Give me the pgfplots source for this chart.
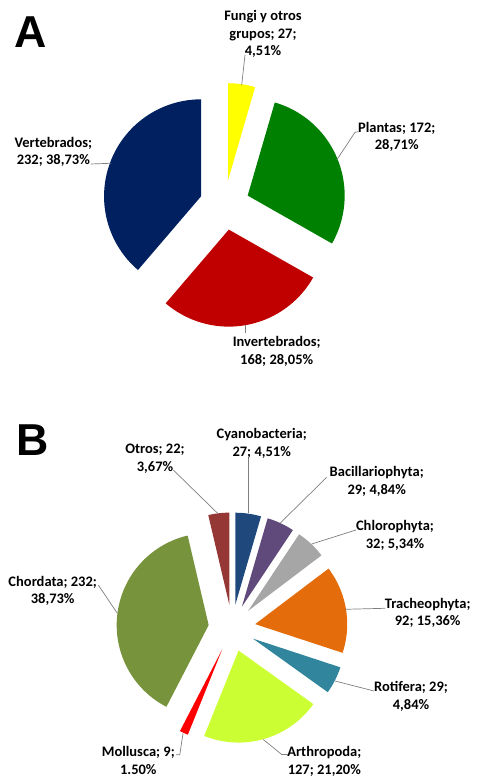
\documentclass[border=0pt]{standalone}
\usepackage{pgfplots}
\pgfplotsset{compat=1.18}
\usepackage{fontspec}
\setmainfont{Carlito}
\newfontfamily\arialf{Liberation Sans}
\definecolor{cAf}{HTML}{FFFF00}
\definecolor{cAp}{HTML}{008000}
\definecolor{cAi}{HTML}{C00000}
\definecolor{cAv}{HTML}{002060}
\definecolor{cBcy}{HTML}{1F497D}
\definecolor{cBba}{HTML}{604A7B}
\definecolor{cBch}{HTML}{A6A6A6}
\definecolor{cBtr}{HTML}{E46C0A}
\definecolor{cBro}{HTML}{31859C}
\definecolor{cBar}{HTML}{CCFF33}
\definecolor{cBmo}{HTML}{FF0000}
\definecolor{cBcd}{HTML}{77933C}
\definecolor{cBot}{HTML}{953735}
\definecolor{lead}{HTML}{7F7F7F}
\def\tot{599}
\def\cum{0}
% #1 colour, #2 cx, #3 cy, #4 radius, #5 explosion offset, #6 value
\newcommand\pieslice[6]{%
  \pgfmathsetmacro\aone{90-\cum/\tot*360}%
  \pgfmathsetmacro\atwo{90-(\cum+#6)/\tot*360}%
  \pgfmathsetmacro\amid{(\aone+\atwo)/2}%
  \pgfmathsetmacro\vx{#2+#5*cos(\amid)}%
  \pgfmathsetmacro\vy{#3+#5*sin(\amid)}%
  \pgfmathsetmacro\newcum{\cum+#6}%
  \xdef\cum{\newcum}%
  \edef\doit{\noexpand\addplot[fill=#1, draw=none, domain=\atwo:\aone, samples=90, variable=\noexpand\t, forget plot] ({\vx+#4*cos(\noexpand\t)},{\vy+#4*sin(\noexpand\t)}) -- (axis cs:\vx,\vy) -- cycle;}%
  \doit
}
\tikzset{lbl/.style={font=\fontsize{14.5}{17.7}\selectfont\bfseries, align=center, inner sep=0pt, text=black}}
\begin{document}
\begin{tikzpicture}
\begin{axis}[width=478pt, height=778pt, scale only axis, xmin=0, xmax=478, ymin=0, ymax=778, hide axis, clip=false]
\path (axis cs:0,0) (axis cs:478,778);
% ---- Chart A (clockwise from top)
\gdef\cum{0}
\pieslice{cAf}{224.5}{573}{97}{25}{27}
\pieslice{cAp}{224.5}{573}{97}{25}{172}
\pieslice{cAi}{224.5}{573}{97}{25}{168}
\pieslice{cAv}{224.5}{573}{97}{25}{232}
% ---- Chart B
\gdef\cum{0}
\pieslice{cBcy}{232}{150}{92}{23.5}{27}
\pieslice{cBba}{232}{150}{92}{23.5}{29}
\pieslice{cBch}{232}{150}{92}{23.5}{32}
\pieslice{cBtr}{232}{150}{92}{23.5}{92}
\pieslice{cBro}{232}{150}{92}{23.5}{29}
\pieslice{cBar}{232}{150}{92}{23.5}{127}
\pieslice{cBmo}{232}{150}{92}{23.5}{9}
\pieslice{cBcd}{232}{150}{92}{23.5}{232}
\pieslice{cBot}{232}{150}{92}{23.5}{22}
% ---- leader lines A
\addplot[lead, line width=0.7pt] coordinates {(245,723) (241.7,693)};
\addplot[lead, line width=0.7pt] coordinates {(358.3,646.3) (355,645.7) (336.7,618)};
\addplot[lead, line width=0.7pt] coordinates {(90.7,614) (111,614.7)};
\addplot[lead, line width=0.7pt] coordinates {(245.7,453) (245.7,444.7)};
% ---- leader lines B
\addplot[lead, line width=0.7pt] coordinates {(173.3,308) (218.3,264)};
\addplot[lead, line width=0.7pt] coordinates {(248.3,319.7) (248.3,264.7)};
\addplot[lead, line width=0.7pt] coordinates {(326.7,300.7) (280,254.7)};
\addplot[lead, line width=0.7pt] coordinates {(356,248) (311.7,234)};
\addplot[lead, line width=0.7pt] coordinates {(385,169.7) (345,168.7)};
\addplot[lead, line width=0.7pt] coordinates {(374,87) (335,97)};
\addplot[lead, line width=0.7pt] coordinates {(287.5,23.5) (281.7,23.5) (263.3,38.5)};
\addplot[lead, line width=0.7pt] coordinates {(176,23.2) (179.8,23.2) (183,44.7)};
\addplot[lead, line width=0.7pt] coordinates {(98.3,193) (117.3,164.7)};
% ---- panel letters
\node[anchor=base west, inner sep=0pt, font=\arialf\bfseries\fontsize{44.7}{50}\selectfont] at (axis cs:14,730.7) {A};
\node[anchor=base west, inner sep=0pt, font=\arialf\bfseries\fontsize{44.7}{50}\selectfont] at (axis cs:16.7,322) {B};
% ---- labels A
\node[lbl] at (axis cs:263,744) {Fungi y otros\\grupos; 27;\\4,51\%};
\node[lbl] at (axis cs:396.7,641) {Plantas; 172;\\28,71\%};
\node[lbl] at (axis cs:53.3,626.2) {Vertebrados;\\232; 38,73\%};
\node[lbl] at (axis cs:276.7,426.5) {Invertebrados;\\168; 28,05\%};
% ---- labels B
\node[lbl] at (axis cs:155,319) {Otros; 22;\\3,67\%};
\node[lbl] at (axis cs:261.7,334.5) {Cyanobacteria;\\27; 4,51\%};
\node[lbl] at (axis cs:376.7,296.5) {Bacillariophyta;\\29; 4,84\%};
\node[lbl] at (axis cs:395,242.3) {Chlorophyta;\\32; 5,34\%};
\node[lbl] at (axis cs:427.7,165) {Tracheophyta;\\92; 15,36\%};
\node[lbl] at (axis cs:411,81.5) {Rotifera; 29;\\4,84\%};
\node[lbl] at (axis cs:324.3,16.5) {Arthropoda;\\127; 21,20\%};
\node[lbl] at (axis cs:138.3,17.5) {Mollusca; 9;\\1.50\%};
\node[lbl] at (axis cs:52.7,187) {Chordata; 232;\\38,73\%};
\end{axis}
\end{tikzpicture}
\end{document}
